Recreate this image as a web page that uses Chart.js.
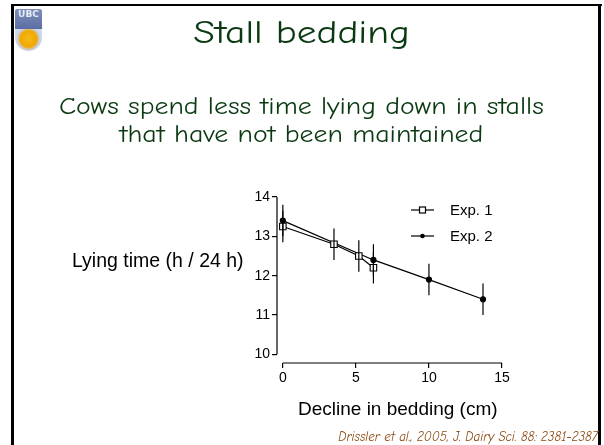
<!DOCTYPE html>
<html>
<head>
<meta charset="utf-8">
<script src="https://cdn.jsdelivr.net/npm/chart.js@4"></script>
<style>
  html, body { margin: 0; padding: 0; background: #fff; }
  #slide { position: relative; width: 604px; height: 445px; overflow: hidden; }
  .frame { position: absolute; background: #000; }
  .txt { position: absolute; white-space: nowrap; }
  .comic { font-family: "Comic Sans MS", "Comic Neue", "DejaVu Sans", sans-serif; color: #0b3a12; }
  .helv { font-family: "Liberation Sans", Arial, Helvetica, sans-serif; color: #000; }
  #chart { position: absolute; left: 0; top: 0; }
  #logo { position: absolute; left: 15px; top: 9px; width: 27px; height: 42px; }
  #logo .top { height: 20px; background: linear-gradient(#7f8fb8, #5a6ea6); color: #e8ecf6;
    font: bold 9px "DejaVu Sans", sans-serif; text-align: center; line-height: 11px; border-radius: 2px 2px 0 0; }
  #logo .bot { height: 22px; background: radial-gradient(circle at 50% 45%, #f6b81a 0, #f0a800 45%, #c9d2e6 62%, #dfe4ef 100%);
    border-radius: 0 0 14px 14px; }
</style>
</head>
<body>
<div id="slide">
  <canvas id="chart" width="604" height="445"></canvas>
  <div class="frame" style="left:12px; top:4px; width:590px; height:2px;"></div>
  <div class="frame" style="left:11px; top:4px; width:3px; height:441px;"></div>
  <div class="frame" style="left:598px; top:4px; width:3px; height:441px;"></div>
  <div id="logo"><div class="top">UBC</div><div class="bot"></div></div>
  <div class="txt comic" style="left:0; width:604px; text-align:center; top:15px; font-size:32px; line-height:36px; transform:scaleX(1.23); transform-origin:304px 0;">Stall bedding</div>
  <div class="txt comic" style="left:0; width:604px; text-align:center; top:92px; font-size:24px; line-height:28px; transform:scaleX(1.16); transform-origin:306px 0;">Cows spend less time lying down in stalls<br>that have not been maintained</div>
  <div class="txt helv" style="left:72px; top:249px; font-size:19.5px;">Lying time (h / 24 h)</div>
  <div class="txt helv" style="left:298px; top:398px; font-size:19px;">Decline in bedding (cm)</div>
  <div class="txt comic" style="right:6px; top:430px; font-size:13px; line-height:14px; font-style:italic; color:#8a4a12;">Drissler et al., 2005, J. Dairy Sci. 88: 2381-2387</div>
</div>
<script>
// data
const exp1X = [0, 3.5, 5.2, 6.2];
const exp1Y = [13.25, 12.8, 12.5, 12.2];
const exp1Err = [0.4, 0.4, 0.4, 0.4];
const exp2X = [0, 6.2, 10, 13.7];
const exp2Y = [13.4, 12.4, 11.9, 11.4];
const exp2Err = [0.4, 0.4, 0.4, 0.4];
const xTicks = [0, 5, 10, 15];
const yTicks = [10, 11, 12, 13, 14];
const seriesNames = ['Exp. 1', 'Exp. 2'];

const toPoints = (xs, ys) => xs.map((x, i) => ({ x: x, y: ys[i] }));

// error bars, detached axis lines and legend
const extras = {
    id: 'extras',
    afterDatasetsDraw(chart) {
        const ctx = chart.ctx;
        const xs = chart.scales.x, ys = chart.scales.y;
        ctx.save();
        ctx.strokeStyle = '#000';
        ctx.lineWidth = 1.2;
        const errs = [exp1Err, exp2Err];
        chart.data.datasets.forEach((ds, di) => {
            ds.data.forEach((p, i) => {
                const px = xs.getPixelForValue(p.x);
                ctx.beginPath();
                ctx.moveTo(px, ys.getPixelForValue(p.y - errs[di][i]));
                ctx.lineTo(px, ys.getPixelForValue(p.y + errs[di][i]));
                ctx.stroke();
            });
        });
        // y axis line 10..14
        const ax = chart.chartArea.left;
        ctx.beginPath();
        ctx.moveTo(ax, ys.getPixelForValue(yTicks[0]));
        ctx.lineTo(ax, ys.getPixelForValue(yTicks[yTicks.length - 1]));
        ctx.stroke();
        // x axis line 0..15
        const ay = chart.chartArea.bottom;
        ctx.beginPath();
        ctx.moveTo(xs.getPixelForValue(xTicks[0]), ay);
        ctx.lineTo(xs.getPixelForValue(xTicks[xTicks.length - 1]), ay);
        ctx.stroke();

        // legend
        ctx.font = '15px "Liberation Sans", Arial, sans-serif';
        ctx.fillStyle = '#000';
        ctx.textBaseline = 'middle';
        [210, 236].forEach((ly, i) => {
            ctx.lineWidth = 1.2;
            ctx.beginPath();
            ctx.moveTo(411, ly);
            ctx.lineTo(434, ly);
            ctx.stroke();
            if (i === 0) {
                ctx.fillStyle = '#fff';
                ctx.fillRect(419.5, ly - 3, 6, 6);
                ctx.strokeRect(419.5, ly - 3, 6, 6);
            } else {
                ctx.fillStyle = '#000';
                ctx.beginPath();
                ctx.arc(422.5, ly, 2.3, 0, Math.PI * 2);
                ctx.fill();
            }
            ctx.fillStyle = '#000';
            ctx.fillText(seriesNames[i], 450, ly + 1);
        });
        ctx.restore();
    }
};

new Chart(document.getElementById('chart'), {
    type: 'scatter',
    data: {
        datasets: [
            {
                label: seriesNames[0],
                data: toPoints(exp1X, exp1Y),
                showLine: true,
                borderColor: '#000',
                borderWidth: 1.2,
                pointStyle: 'rect',
                pointRadius: 4.6,
                pointBackgroundColor: '#fff',
                pointBorderColor: '#000',
                pointBorderWidth: 1.1,
                order: 1
            },
            {
                label: seriesNames[1],
                data: toPoints(exp2X, exp2Y),
                showLine: true,
                borderColor: '#000',
                borderWidth: 1.2,
                pointStyle: 'circle',
                pointRadius: 2.5,
                pointBackgroundColor: '#000',
                pointBorderColor: '#000',
                order: 2
            }
        ]
    },
    options: {
        responsive: false,
        animation: false,
        layout: { padding: { left: 237, right: 102, top: 197, bottom: 52 } },
        plugins: { legend: { display: false }, tooltip: { enabled: false } },
        scales: {
            x: {
                type: 'linear',
                min: -0.4,
                max: 15,
                afterBuildTicks: s => { s.ticks = xTicks.map(v => ({ value: v })); },
                afterFit: s => { s.height = 30; },
                border: { display: false },
                grid: { drawOnChartArea: false, drawTicks: true, tickLength: 5, color: '#000', lineWidth: 1.2 },
                ticks: { color: '#000', padding: 2, font: { family: '"Liberation Sans", Arial, sans-serif', size: 14 } }
            },
            y: {
                type: 'linear',
                min: 9.78,
                max: 14,
                afterBuildTicks: s => { s.ticks = yTicks.map(v => ({ value: v })); },
                afterFit: s => { s.width = 40; },
                border: { display: false },
                grid: { drawOnChartArea: false, drawTicks: true, tickLength: 5, color: '#000', lineWidth: 1.2 },
                ticks: { color: '#000', padding: 2, font: { family: '"Liberation Sans", Arial, sans-serif', size: 14 } }
            }
        }
    },
    plugins: [extras]
});
</script>
</body>
</html>
